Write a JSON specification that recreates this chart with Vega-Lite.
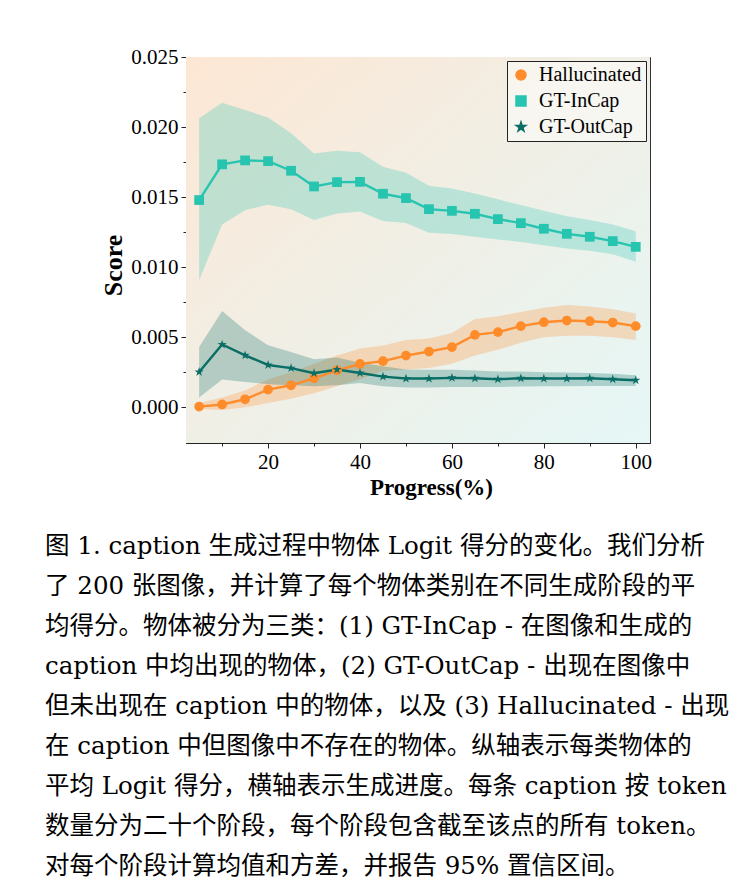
{
  "$schema": "https://vega.github.io/schema/vega-lite/v6.json",
  "width": 464,
  "height": 386,
  "autosize": "none",
  "padding": {"left": 186, "top": 57, "right": 98, "bottom": 449},
  "background": "white",
  "title": {
    "text": [
      "图 1. caption 生成过程中物体 Logit 得分的变化。我们分析",
      "了 200 张图像，并计算了每个物体类别在不同生成阶段的平",
      "均得分。物体被分为三类：(1) GT-InCap - 在图像和生成的",
      "caption 中均出现的物体，(2) GT-OutCap - 出现在图像中",
      "但未出现在 caption 中的物体，以及 (3) Hallucinated - 出现",
      "在 caption 中但图像中不存在的物体。纵轴表示每类物体的",
      "平均 Logit 得分，横轴表示生成进度。每条 caption 按 token",
      "数量分为二十个阶段，每个阶段包含截至该点的所有 token。",
      "对每个阶段计算均值和方差，并报告 95% 置信区间。"
    ],
    "orient": "bottom",
    "anchor": "start",
    "frame": "group",
    "dx": -141,
    "offset": 36,
    "baseline": "top",
    "font": "DejaVu Serif, Noto Sans CJK SC",
    "fontSize": 24.5,
    "fontWeight": "normal",
    "lineHeight": 40,
    "color": "black"
  },
  "data": {
    "values": [
      {"progress": 5, "series": "Hallucinated", "score": 0.00005, "lower": -0.0001, "upper": 0.0003},
      {"progress": 10, "series": "Hallucinated", "score": 0.0002, "lower": -0.0002, "upper": 0.0007},
      {"progress": 15, "series": "Hallucinated", "score": 0.00057, "lower": 0.0, "upper": 0.0012},
      {"progress": 20, "series": "Hallucinated", "score": 0.00126, "lower": 0.0003, "upper": 0.002},
      {"progress": 25, "series": "Hallucinated", "score": 0.00157, "lower": 0.0006, "upper": 0.0025},
      {"progress": 30, "series": "Hallucinated", "score": 0.00207, "lower": 0.001, "upper": 0.0031},
      {"progress": 35, "series": "Hallucinated", "score": 0.00264, "lower": 0.0015, "upper": 0.0037},
      {"progress": 40, "series": "Hallucinated", "score": 0.00309, "lower": 0.002, "upper": 0.0042},
      {"progress": 45, "series": "Hallucinated", "score": 0.00329, "lower": 0.0026, "upper": 0.0044},
      {"progress": 50, "series": "Hallucinated", "score": 0.00369, "lower": 0.0027, "upper": 0.0048},
      {"progress": 55, "series": "Hallucinated", "score": 0.00398, "lower": 0.0028, "upper": 0.0049},
      {"progress": 60, "series": "Hallucinated", "score": 0.00429, "lower": 0.0031, "upper": 0.0053},
      {"progress": 65, "series": "Hallucinated", "score": 0.00517, "lower": 0.0037, "upper": 0.0063},
      {"progress": 70, "series": "Hallucinated", "score": 0.00536, "lower": 0.0041, "upper": 0.0065},
      {"progress": 75, "series": "Hallucinated", "score": 0.00579, "lower": 0.0046, "upper": 0.0068},
      {"progress": 80, "series": "Hallucinated", "score": 0.00607, "lower": 0.005, "upper": 0.0071},
      {"progress": 85, "series": "Hallucinated", "score": 0.00619, "lower": 0.0051, "upper": 0.0073},
      {"progress": 90, "series": "Hallucinated", "score": 0.00614, "lower": 0.0051, "upper": 0.0072},
      {"progress": 95, "series": "Hallucinated", "score": 0.00605, "lower": 0.005, "upper": 0.007},
      {"progress": 100, "series": "Hallucinated", "score": 0.00579, "lower": 0.0048, "upper": 0.0067},
      {"progress": 5, "series": "GT-InCap", "score": 0.01479, "lower": 0.00907, "upper": 0.02062},
      {"progress": 10, "series": "GT-InCap", "score": 0.01734, "lower": 0.01305, "upper": 0.02174},
      {"progress": 15, "series": "GT-InCap", "score": 0.01762, "lower": 0.01407, "upper": 0.02121},
      {"progress": 20, "series": "GT-InCap", "score": 0.01757, "lower": 0.01445, "upper": 0.02069},
      {"progress": 25, "series": "GT-InCap", "score": 0.01688, "lower": 0.01414, "upper": 0.01955},
      {"progress": 30, "series": "GT-InCap", "score": 0.01576, "lower": 0.01336, "upper": 0.01812},
      {"progress": 35, "series": "GT-InCap", "score": 0.01607, "lower": 0.01383, "upper": 0.01831},
      {"progress": 40, "series": "GT-InCap", "score": 0.01609, "lower": 0.01398, "upper": 0.01821},
      {"progress": 45, "series": "GT-InCap", "score": 0.01524, "lower": 0.01329, "upper": 0.01717},
      {"progress": 50, "series": "GT-InCap", "score": 0.01493, "lower": 0.01316, "upper": 0.01674},
      {"progress": 55, "series": "GT-InCap", "score": 0.01414, "lower": 0.01245, "upper": 0.01581},
      {"progress": 60, "series": "GT-InCap", "score": 0.01402, "lower": 0.01236, "upper": 0.01562},
      {"progress": 65, "series": "GT-InCap", "score": 0.01381, "lower": 0.01217, "upper": 0.01526},
      {"progress": 70, "series": "GT-InCap", "score": 0.01343, "lower": 0.01198, "upper": 0.01484},
      {"progress": 75, "series": "GT-InCap", "score": 0.01314, "lower": 0.01179, "upper": 0.01443},
      {"progress": 80, "series": "GT-InCap", "score": 0.01274, "lower": 0.01157, "upper": 0.01402},
      {"progress": 85, "series": "GT-InCap", "score": 0.01238, "lower": 0.01134, "upper": 0.01364},
      {"progress": 90, "series": "GT-InCap", "score": 0.01217, "lower": 0.01117, "upper": 0.01336},
      {"progress": 95, "series": "GT-InCap", "score": 0.01186, "lower": 0.01093, "upper": 0.01305},
      {"progress": 100, "series": "GT-InCap", "score": 0.01145, "lower": 0.01038, "upper": 0.01257},
      {"progress": 5, "series": "GT-OutCap", "score": 0.00252, "lower": 0.00069, "upper": 0.00431},
      {"progress": 10, "series": "GT-OutCap", "score": 0.00448, "lower": 0.00198, "upper": 0.00688},
      {"progress": 15, "series": "GT-OutCap", "score": 0.00371, "lower": 0.00181, "upper": 0.0055},
      {"progress": 20, "series": "GT-OutCap", "score": 0.00302, "lower": 0.00164, "upper": 0.00443},
      {"progress": 25, "series": "GT-OutCap", "score": 0.00279, "lower": 0.00157, "upper": 0.00395},
      {"progress": 30, "series": "GT-OutCap", "score": 0.00243, "lower": 0.0015, "upper": 0.00343},
      {"progress": 35, "series": "GT-OutCap", "score": 0.00269, "lower": 0.00157, "upper": 0.00355},
      {"progress": 40, "series": "GT-OutCap", "score": 0.00245, "lower": 0.00174, "upper": 0.00317},
      {"progress": 45, "series": "GT-OutCap", "score": 0.00219, "lower": 0.0015, "upper": 0.00293},
      {"progress": 50, "series": "GT-OutCap", "score": 0.00205, "lower": 0.00141, "upper": 0.0027},
      {"progress": 55, "series": "GT-OutCap", "score": 0.00205, "lower": 0.00142, "upper": 0.00268},
      {"progress": 60, "series": "GT-OutCap", "score": 0.0021, "lower": 0.00145, "upper": 0.00268},
      {"progress": 65, "series": "GT-OutCap", "score": 0.00207, "lower": 0.00145, "upper": 0.00262},
      {"progress": 70, "series": "GT-OutCap", "score": 0.002, "lower": 0.00145, "upper": 0.00255},
      {"progress": 75, "series": "GT-OutCap", "score": 0.00207, "lower": 0.00148, "upper": 0.00255},
      {"progress": 80, "series": "GT-OutCap", "score": 0.00205, "lower": 0.0015, "upper": 0.0025},
      {"progress": 85, "series": "GT-OutCap", "score": 0.00205, "lower": 0.0015, "upper": 0.00248},
      {"progress": 90, "series": "GT-OutCap", "score": 0.00207, "lower": 0.00152, "upper": 0.00245},
      {"progress": 95, "series": "GT-OutCap", "score": 0.002, "lower": 0.00152, "upper": 0.0024},
      {"progress": 100, "series": "GT-OutCap", "score": 0.00193, "lower": 0.00152, "upper": 0.00229}
    ]
  },
  "resolve": {"axis": {"x": "independent", "y": "independent"}},
  "layer": [
    {
      "data": {"values": [{"bg": 1}]},
      "mark": {
        "type": "rect",
        "fill": {
          "gradient": "linear",
          "x1": 0, "y1": 0, "x2": 1, "y2": 1,
          "stops": [
            {"offset": 0, "color": "#fde7d4"},
            {"offset": 0.5, "color": "#f0efe6"},
            {"offset": 1, "color": "#e5f7f6"}
          ]
        }
      },
      "encoding": {}
    },
    {
      "mark": {"type": "area", "fillOpacity": 0.27},
      "encoding": {
        "x": {
          "field": "progress",
          "type": "quantitative",
          "scale": {"domain": [2.14, 103.1], "nice": false, "zero": false},
          "axis": {
            "orient": "bottom",
            "values": [20, 40, 60, 80, 100],
            "title": "Progress(%)",
            "titleX": 245
          }
        },
        "y": {
          "field": "lower",
          "type": "quantitative",
          "scale": {"domain": [-0.00255, 0.025], "nice": false, "zero": false},
          "axis": {
            "orient": "left",
            "values": [0, 0.005, 0.01, 0.015, 0.02, 0.025],
            "format": ".3f",
            "title": "Score",
            "titleFontSize": 26,
            "titleY": 208
          }
        },
        "y2": {"field": "upper"},
        "color": {
          "field": "series",
          "type": "nominal",
          "scale": {
            "domain": ["Hallucinated", "GT-InCap", "GT-OutCap"],
            "range": ["#ff8c2b", "#27c4b0", "#0a6e66"]
          },
          "legend": {
            "title": null,
            "orient": "top-right",
            "offset": 4,
            "padding": 4,
            "strokeColor": "#222",
            "fillColor": "rgba(255,255,255,0.45)",
            "labelFont": "Liberation Serif",
            "labelFontSize": 20,
            "labelColor": "black",
            "labelOffset": 8,
            "symbolSize": 100,
            "symbolOpacity": 1,
            "rowPadding": 6
          }
        }
      }
    },
    {
      "mark": {"type": "line", "strokeWidth": 2.4},
      "encoding": {
        "x": {
          "field": "progress",
          "type": "quantitative",
          "axis": {"orient": "bottom", "values": [10, 30, 50, 70, 90], "labels": false, "domain": false, "tickSize": 3, "title": null}
        },
        "y": {
          "field": "score",
          "type": "quantitative",
          "axis": {"orient": "left", "values": [0.0025, 0.0075, 0.0125, 0.0175, 0.0225], "labels": false, "domain": false, "tickSize": 3, "title": null}
        },
        "color": {"field": "series", "type": "nominal"}
      }
    },
    {
      "mark": {"type": "point", "filled": true, "size": 95, "opacity": 1},
      "encoding": {
        "x": {"field": "progress", "type": "quantitative", "axis": null},
        "y": {"field": "score", "type": "quantitative", "axis": null},
        "color": {"field": "series", "type": "nominal"},
        "shape": {
          "field": "series",
          "type": "nominal",
          "scale": {
            "domain": ["Hallucinated", "GT-InCap", "GT-OutCap"],
            "range": ["circle", "square", "M0,-1L0.2245,-0.309L0.951,-0.309L0.3633,0.118L0.588,0.809L0,0.382L-0.588,0.809L-0.3633,0.118L-0.951,-0.309L-0.2245,-0.309Z"]
          }
        }
      }
    }
  ],
  "config": {
    "font": "Liberation Serif",
    "view": {"stroke": "#333", "strokeWidth": 1},
    "axis": {
      "grid": false,
      "domainColor": "#222",
      "tickColor": "#222",
      "tickSize": 5,
      "labelFont": "Liberation Serif",
      "labelFontSize": 21,
      "labelColor": "black",
      "labelPadding": 3,
      "titleFont": "Liberation Serif",
      "titleFontSize": 23,
      "titleFontWeight": "bold",
      "titleColor": "black",
      "titlePadding": 4
    }
  }
}
